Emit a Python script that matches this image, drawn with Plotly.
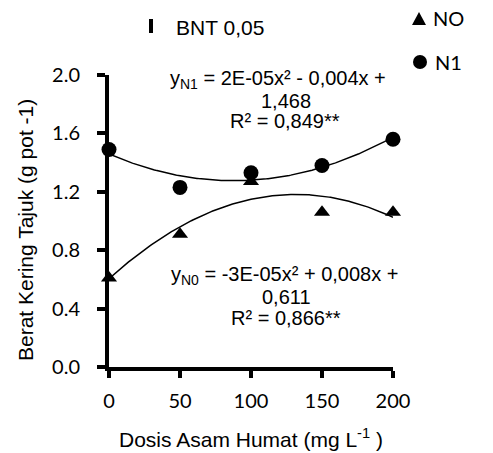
import numpy as np
import plotly.graph_objects as go

# Data
doses = [0, 50, 100, 150, 200]
n0_values = [0.61, 0.91, 1.27, 1.06, 1.06]
n1_values = [1.49, 1.23, 1.33, 1.38, 1.56]
x_ticks = [0, 50, 100, 150, 200]
y_ticks = [0.0, 0.4, 0.8, 1.2, 1.6, 2.0]
y_tick_labels = ["0.0", "0.4", "0.8", "1.2", "1.6", "2.0"]
series_names = ["NO", "N1"]

# quadratic trend lines (fitted to the data)
xs = np.linspace(0, 200, 201)
c0 = np.polyfit(doses, n0_values, 2)
c1 = np.polyfit(doses, n1_values, 2)

ARIAL = "Liberation Sans, Arial, sans-serif"
CAL = "Lato, Carlito, sans-serif"

W, H = 493, 453
L, R, T, B = 109, 100, 75, 86
PW, PH = W - L - R, H - T - B

def pxx(p):
    return (p - L) / PW
def pxy(p):
    return (H - B - p) / PH

fig = go.Figure()
fig.add_trace(go.Scatter(x=xs, y=np.polyval(c0, xs), mode="lines",
                         line=dict(color="black", width=1.5), showlegend=False,
                         hoverinfo="skip"))
fig.add_trace(go.Scatter(x=xs, y=np.polyval(c1, xs), mode="lines",
                         line=dict(color="black", width=1.5), showlegend=False,
                         hoverinfo="skip"))
fig.add_trace(go.Scatter(x=doses, y=n0_values, mode="markers", name=series_names[0],
                         marker=dict(symbol="triangle-up", size=14, color="black"),
                         cliponaxis=False, showlegend=False))
fig.add_trace(go.Scatter(x=doses, y=n1_values, mode="markers", name=series_names[1],
                         marker=dict(symbol="circle", size=15, color="black"),
                         cliponaxis=False, showlegend=False))

ann = []
def add(text, x, y, size=20, anchor="center", family=ARIAL, angle=0):
    ann.append(dict(text=text, x=pxx(x), y=pxy(y), xref="paper", yref="paper",
                    showarrow=False, textangle=angle,
                    font=dict(family=family, size=size, color="black"),
                    xanchor=anchor, yanchor="middle"))

add("y<sub>N1</sub> = 2E-05x² - 0,004x +", 278, 80)
add("1,468", 286, 101)
add("R² = 0,849**", 285, 121)
add("y<sub>N0</sub> = -3E-05x² + 0,008x +", 284, 275)
add("0,611", 286, 297)
add("R² = 0,866**", 286, 318)
add("BNT 0,05", 174, 27, size=21, anchor="left")
# legend texts
add(series_names[0], 431, 18, size=20, anchor="left", family=CAL)
add(series_names[1], 433, 62, size=20, anchor="left", family=CAL)
# y-axis title
add("Berat Kering Tajuk (g pot -1)", 25, 230, size=21, angle=-90)

tri_cx, tri_cy = 419, 19
tri_path = "M {} {} L {} {} L {} {} Z".format(
    pxx(tri_cx - 7), pxy(tri_cy + 6), pxx(tri_cx + 7), pxy(tri_cy + 6),
    pxx(tri_cx), pxy(tri_cy - 7))
shapes = [
    # BNT bar
    dict(type="line", xref="paper", yref="paper",
         x0=pxx(151), x1=pxx(151), y0=pxy(19), y1=pxy(33),
         line=dict(color="black", width=4)),
    # legend markers
    dict(type="path", xref="paper", yref="paper", path=tri_path,
         fillcolor="black", line=dict(color="black", width=0)),
    dict(type="circle", xref="paper", yref="paper",
         x0=pxx(413), x1=pxx(427), y0=pxy(69), y1=pxy(55),
         fillcolor="black", line=dict(color="black", width=0)),
]

fig.update_layout(
    width=W, height=H,
    margin=dict(l=L, r=R, t=T, b=B),
    plot_bgcolor="white", paper_bgcolor="white",
    showlegend=False,
    annotations=ann,
    shapes=shapes,
)
fig.update_xaxes(range=[0, 200], tickvals=x_ticks, ticktext=[str(v) for v in x_ticks],
                 showgrid=False, zeroline=False, showline=True, linecolor="black",
                 linewidth=4, ticks="outside", ticklen=7, tickwidth=4, tickcolor="black",
                 automargin=False, ticklabelstandoff=6,
                 tickfont=dict(family=CAL, size=20, color="black"),
                 title=dict(text="Dosis Asam Humat (mg L<sup>-1</sup> )",
                            font=dict(family=ARIAL, size=21, color="black"), standoff=22))
fig.update_yaxes(range=[0, 2.0], tickvals=y_ticks, ticktext=y_tick_labels,
                 showgrid=False, zeroline=False, showline=True, linecolor="black",
                 linewidth=4, ticks="outside", ticklen=8, tickwidth=4, tickcolor="black",
                 automargin=False, ticklabelstandoff=13,
                 tickfont=dict(family=CAL, size=20, color="black"))

fig.write_html("out.html", config={"displayModeBar": False},
               post_script="document.body.style.margin='0px';")
